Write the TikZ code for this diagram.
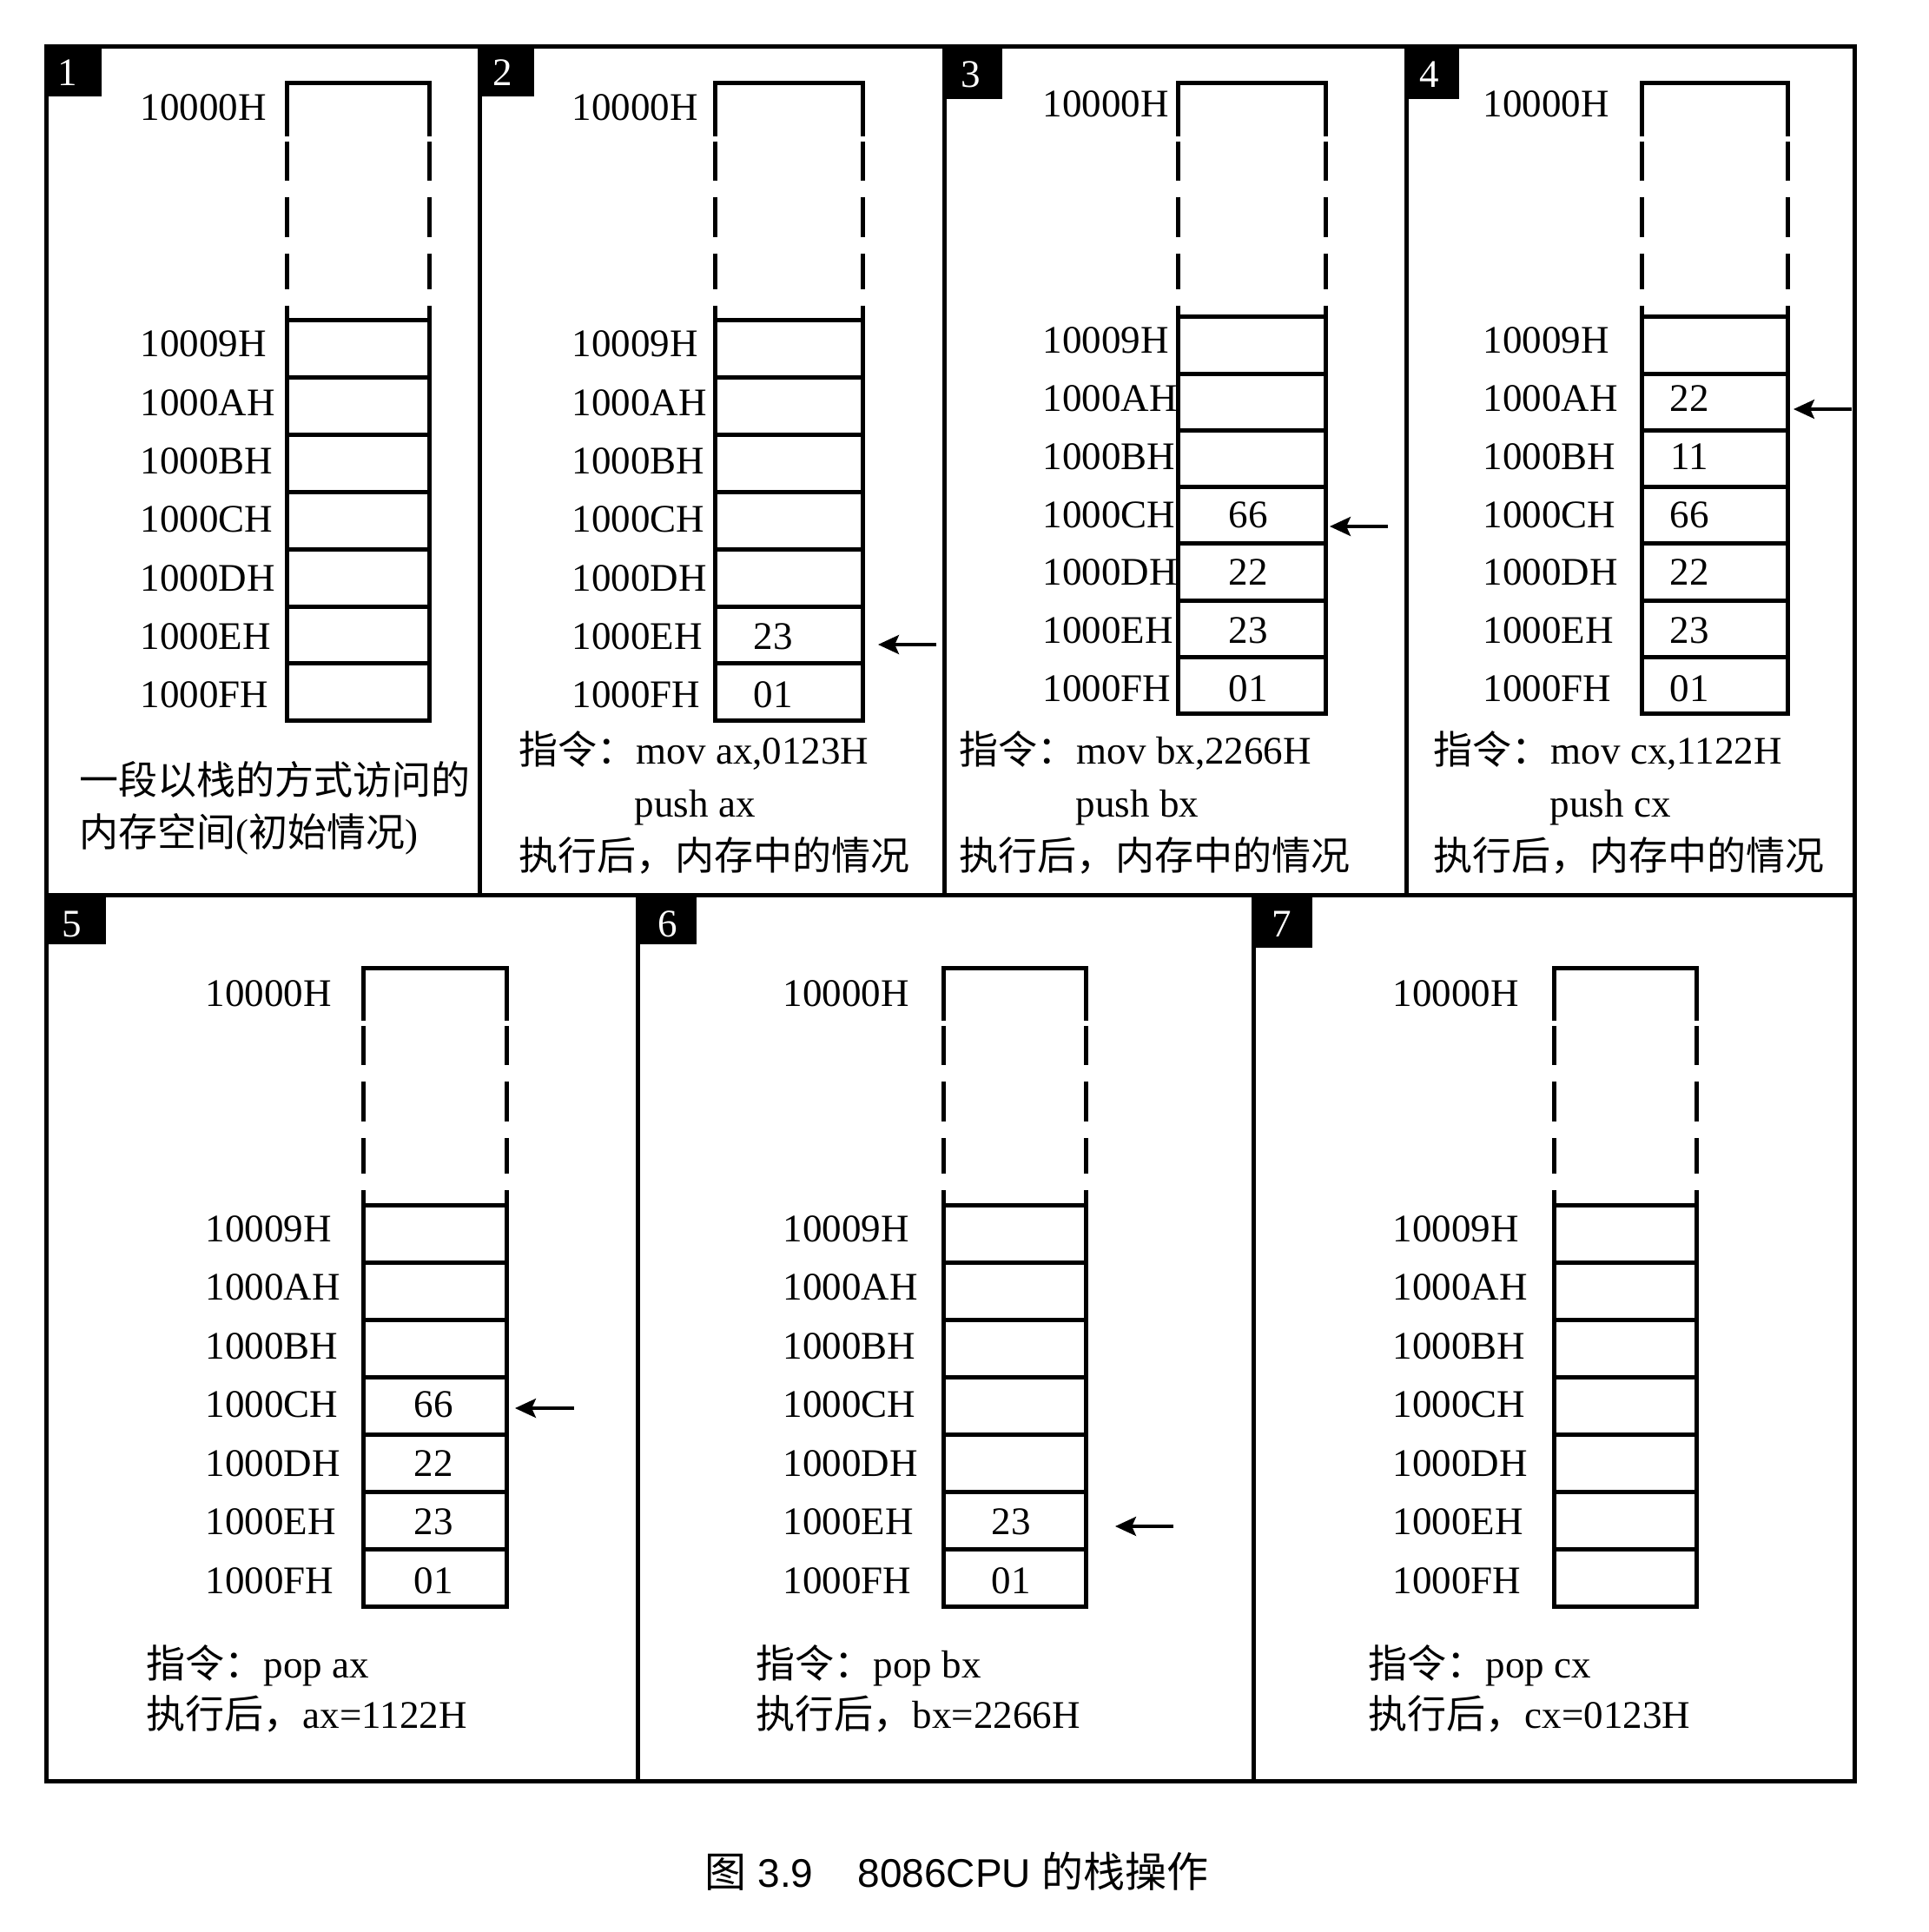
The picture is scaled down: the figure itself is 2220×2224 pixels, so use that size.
\documentclass[tikz,border=0pt]{standalone}
\usepackage{fontspec}
\setmainfont{Liberation Serif}
\newfontfamily\song{Noto Sans CJK SC}
\newfontfamily\hei{Noto Sans CJK SC}
\newfontfamily\arialf{Liberation Sans}
\usetikzlibrary{arrows.meta}

\newcommand\memstk[8]{%
  \def\stF{#5}\def\stP{#6}%
  \draw[stk] (#2,#4+61) -- (#2,#4) -- (#3,#4) -- (#3,#4+61);
  \foreach \da/\db in {67/112,131/177,196/237}{%
    \draw[stk] (#2,#4+\da) -- (#2,#4+\db);
    \draw[stk] (#3,#4+\da) -- (#3,#4+\db);}
  \draw[stk] (#2,#4+256) -- (#2,#5);
  \draw[stk] (#3,#4+256) -- (#3,#5);
  \node[lab] (#1h0) at (#7,#4+#8) {10000H};
  \foreach \k/\lbl in {1/10009H,2/1000AH,3/1000BH,4/1000CH,5/1000DH,6/1000EH,7/1000FH}{%
    \node[cell, minimum width={(#3-#2)*0.25pt}, minimum height={#6*0.25pt}] (#1c\k) at ({(#2+#3)/2},{#5+(\k-0.5)*#6}) {};
    \node[lab] (#1h\k) at (#7,{#5+42+(\k-1)*(#6+1.5)}) {\lbl};}
}
\newcommand\memval[4]{\node[val] (#1v#2) at (#3,{\stF+42+(#2-1)*(\stP+1.5)}) {#4};}

\begin{document}
\begin{tikzpicture}[x=0.25pt,y=-0.25pt,
  frame/.style={line width=1.25pt},
  stk/.style={line width=1.25pt},
  cell/.style={draw, rectangle, line width=1.25pt, inner sep=0pt, outer sep=0pt},
  lab/.style={font=\fontsize{11.25pt}{13pt}\selectfont, inner sep=0pt, anchor=base west},
  val/.style={font=\fontsize{11.25pt}{13pt}\selectfont, inner sep=0pt, anchor=base},
  tagnum/.style={text=white, font=\fontsize{11.25pt}{13pt}\selectfont, inner sep=0pt},
  note/.style={font=\fontsize{11.25pt}{13pt}\selectfont, inner sep=0pt, anchor=base west},
  ptr/.style={-{Stealth[length=6pt,width=5.5pt,inset=1.2pt]}, line width=0.85pt}]
\useasboundingbox (0,0) rectangle (2220,2224);

% frame
\draw[frame] (53,54) rectangle (2135,2050);
\draw[frame] (53,1030) -- (2135,1030);
\draw[frame] (552,54) -- (552,1030);
\draw[frame] (1087,54) -- (1087,1030);
\draw[frame] (1619,54) -- (1619,1030);
\draw[frame] (734,1030) -- (734,2050);
\draw[frame] (1443,1030) -- (1443,2050);

% tags
\fill (53,54) rectangle (117,111);
\fill (552,54) rectangle (615,111);
\fill (1087,54) rectangle (1154,114);
\fill (1619,54) rectangle (1680,114);
\fill (53,1030) rectangle (122,1087);
\fill (734,1030) rectangle (802,1087);
\fill (1443,1030) rectangle (1511,1091);
\node[tagnum] (n1) at (78,84) {1};
\node[tagnum] (n2) at (579,84) {2};
\node[tagnum] (n3) at (1118,86) {3};
\node[tagnum] (n4) at (1646,86) {4};
\node[tagnum] (n5) at (83,1064) {5};
\node[tagnum] (n6) at (769,1064) {6};
\node[tagnum] (n7) at (1476,1064) {7};

% stacks
\memstk{pa}{330}{494}{96}{369}{65.8}{161}{43}
\memstk{pb}{823}{993}{96}{369}{65.8}{658}{43}
\memval{pb}{6}{890}{23}
\memval{pb}{7}{890}{01}
\memstk{pc}{1356}{1526}{96}{365}{65.2}{1200}{39}
\memval{pc}{4}{1437}{66}
\memval{pc}{5}{1437}{22}
\memval{pc}{6}{1437}{23}
\memval{pc}{7}{1437}{01}
\memstk{pd}{1890}{2058}{96}{365}{65.2}{1707}{39}
\memval{pd}{2}{1945}{22}
\memval{pd}{3}{1945}{11}
\memval{pd}{4}{1945}{66}
\memval{pd}{5}{1945}{22}
\memval{pd}{6}{1945}{23}
\memval{pd}{7}{1945}{01}
\memstk{pe}{418}{583}{1114}{1387}{66}{236}{44}
\memval{pe}{4}{499}{66}
\memval{pe}{5}{499}{22}
\memval{pe}{6}{499}{23}
\memval{pe}{7}{499}{01}
\memstk{pf}{1086}{1250}{1114}{1387}{66}{901}{44}
\memval{pf}{6}{1164}{23}
\memval{pf}{7}{1164}{01}
\memstk{pg}{1789}{1953}{1114}{1387}{66}{1603}{44}

% pointers
\coordinate (a2s) at (1078,742); \coordinate (a2e) at (1011,742);
\coordinate (a3s) at (1598,606); \coordinate (a3e) at (1531,606);
\coordinate (a4s) at (2132,471); \coordinate (a4e) at (2065,471);
\coordinate (a5s) at (661,1621); \coordinate (a5e) at (593,1621);
\coordinate (a6s) at (1351,1757); \coordinate (a6e) at (1284,1757);
\draw[ptr] (a2s) -- (a2e);
\draw[ptr] (a3s) -- (a3e);
\draw[ptr] (a4s) -- (a4e);
\draw[ptr] (a5s) -- (a5e);
\draw[ptr] (a6s) -- (a6e);

% notes
\node[note] (t1a) at (91,914) {\song 一段以栈的方式访问的};
\node[note] (t1b) at (91,974) {{\song 内存空间}({\song 初始情况})};
\node[note] (t2a) at (597,879) {{\song 指令：}mov ax,0123H};
\node[note] (t2b) at (730,940) {push ax};
\node[note] (t2c) at (597,1001) {\song 执行后，内存中的情况};
\node[note] (t3a) at (1104,879) {{\song 指令：}mov bx,2266H};
\node[note] (t3b) at (1238,940) {push bx};
\node[note] (t3c) at (1104,1001) {\song 执行后，内存中的情况};
\node[note] (t4a) at (1650,879) {{\song 指令：}mov cx,1122H};
\node[note] (t4b) at (1784,940) {push cx};
\node[note] (t4c) at (1650,1001) {\song 执行后，内存中的情况};
\node[note] (t5a) at (168,1931) {{\song 指令：}pop ax};
\node[note] (t5b) at (168,1989) {{\song 执行后，}ax=1122H};
\node[note] (t6a) at (870,1931) {{\song 指令：}pop bx};
\node[note] (t6b) at (870,1989) {{\song 执行后，}bx=2266H};
\node[note] (t7a) at (1575,1931) {{\song 指令：}pop cx};
\node[note] (t7b) at (1575,1989) {{\song 执行后，}cx=0123H};

% caption
\node[inner sep=0pt, anchor=base west, font=\fontsize{11.5pt}{14pt}\selectfont\arialf] (cap) at (811,2172)
  {{\hei\fontsize{12pt}{14pt}\selectfont 图} 3.9\hspace{12.75pt}8086CPU {\hei\fontsize{12pt}{14pt}\selectfont 的栈操作}};
\end{tikzpicture}
\end{document}
